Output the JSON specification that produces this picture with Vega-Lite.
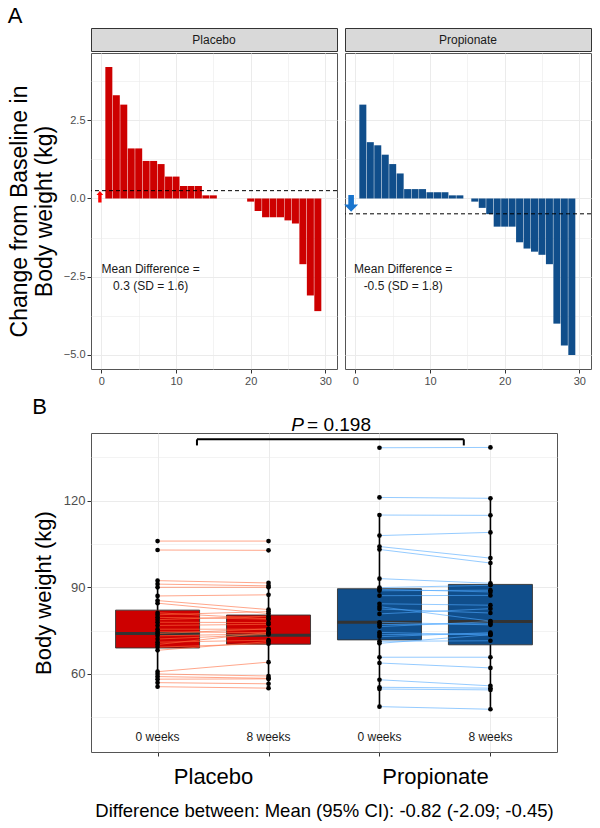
{
  "$schema": "https://vega.github.io/schema/vega-lite/v6.json",
  "padding": {"left": 7, "top": 4, "right": 2, "bottom": 2},
  "background": "white",
  "config": {
    "font": "Liberation Sans",
    "view": {"stroke": "#555555", "strokeWidth": 1},
    "axis": {"domain": false, "tickColor": "#333333", "labelColor": "#4D4D4D", "gridColor": "#EBEBEB", "titleFontWeight": "normal", "titleColor": "black", "labelFont": "Liberation Sans", "titleFont": "Liberation Sans"},
    "title": {"fontWeight": "normal", "font": "Liberation Sans", "color": "black"}
  },
  "datasets": {
    "change": [
      {"panel": "Placebo", "id": 1, "change": 4.2}, {"panel": "Placebo", "id": 2, "change": 3.3}, {"panel": "Placebo", "id": 3, "change": 3.0},
      {"panel": "Placebo", "id": 4, "change": 1.6}, {"panel": "Placebo", "id": 5, "change": 1.6}, {"panel": "Placebo", "id": 6, "change": 1.2},
      {"panel": "Placebo", "id": 7, "change": 1.2}, {"panel": "Placebo", "id": 8, "change": 1.1}, {"panel": "Placebo", "id": 9, "change": 0.7},
      {"panel": "Placebo", "id": 10, "change": 0.7}, {"panel": "Placebo", "id": 11, "change": 0.4}, {"panel": "Placebo", "id": 12, "change": 0.4},
      {"panel": "Placebo", "id": 13, "change": 0.4}, {"panel": "Placebo", "id": 14, "change": 0.1}, {"panel": "Placebo", "id": 15, "change": 0.1},
      {"panel": "Placebo", "id": 16, "change": 0}, {"panel": "Placebo", "id": 17, "change": 0}, {"panel": "Placebo", "id": 18, "change": 0},
      {"panel": "Placebo", "id": 19, "change": 0}, {"panel": "Placebo", "id": 20, "change": -0.1}, {"panel": "Placebo", "id": 21, "change": -0.4},
      {"panel": "Placebo", "id": 22, "change": -0.6}, {"panel": "Placebo", "id": 23, "change": -0.6}, {"panel": "Placebo", "id": 24, "change": -0.6},
      {"panel": "Placebo", "id": 25, "change": -0.7}, {"panel": "Placebo", "id": 26, "change": -0.8}, {"panel": "Placebo", "id": 27, "change": -2.1},
      {"panel": "Placebo", "id": 28, "change": -3.1}, {"panel": "Placebo", "id": 29, "change": -3.6},
      {"panel": "Propionate", "id": 1, "change": 3.0}, {"panel": "Propionate", "id": 2, "change": 1.8}, {"panel": "Propionate", "id": 3, "change": 1.7},
      {"panel": "Propionate", "id": 4, "change": 1.4}, {"panel": "Propionate", "id": 5, "change": 1.1}, {"panel": "Propionate", "id": 6, "change": 0.8},
      {"panel": "Propionate", "id": 7, "change": 0.3}, {"panel": "Propionate", "id": 8, "change": 0.3}, {"panel": "Propionate", "id": 9, "change": 0.3},
      {"panel": "Propionate", "id": 10, "change": 0.2}, {"panel": "Propionate", "id": 11, "change": 0.2}, {"panel": "Propionate", "id": 12, "change": 0.2},
      {"panel": "Propionate", "id": 13, "change": 0.1}, {"panel": "Propionate", "id": 14, "change": 0.1}, {"panel": "Propionate", "id": 15, "change": 0},
      {"panel": "Propionate", "id": 16, "change": -0.1}, {"panel": "Propionate", "id": 17, "change": -0.3}, {"panel": "Propionate", "id": 18, "change": -0.5},
      {"panel": "Propionate", "id": 19, "change": -0.9}, {"panel": "Propionate", "id": 20, "change": -0.9}, {"panel": "Propionate", "id": 21, "change": -0.9},
      {"panel": "Propionate", "id": 22, "change": -1.4}, {"panel": "Propionate", "id": 23, "change": -1.6}, {"panel": "Propionate", "id": 24, "change": -1.7},
      {"panel": "Propionate", "id": 25, "change": -1.8}, {"panel": "Propionate", "id": 26, "change": -2.1}, {"panel": "Propionate", "id": 27, "change": -4.0},
      {"panel": "Propionate", "id": 28, "change": -4.7}, {"panel": "Propionate", "id": 29, "change": -5.0}
    ],
    "boxes": [
      {"c": "Placebo 0 weeks", "g": "Placebo", "lab": "0 weeks", "lo": 55.6, "q1": 69.0, "med": 74.0, "q3": 82.1, "hi": 92.3},
      {"c": "Placebo 8 weeks", "g": "Placebo", "lab": "8 weeks", "lo": 55.1, "q1": 70.3, "med": 73.4, "q3": 80.4, "hi": 91.5},
      {"c": "Propionate 0 weeks", "g": "Propionate", "lab": "0 weeks", "lo": 48.7, "q1": 71.8, "med": 77.9, "q3": 89.5, "hi": 115.0},
      {"c": "Propionate 8 weeks", "g": "Propionate", "lab": "8 weeks", "lo": 47.8, "q1": 70.1, "med": 78.2, "q3": 91.0, "hi": 120.8}
    ],
    "weights": [
      {"s": "P01", "g": "Placebo", "c": "Placebo 0 weeks", "w": 106.0}, {"s": "P01", "g": "Placebo", "c": "Placebo 8 weeks", "w": 106.0},
      {"s": "P02", "g": "Placebo", "c": "Placebo 0 weeks", "w": 102.9}, {"s": "P02", "g": "Placebo", "c": "Placebo 8 weeks", "w": 102.8},
      {"s": "P03", "g": "Placebo", "c": "Placebo 0 weeks", "w": 92.3}, {"s": "P03", "g": "Placebo", "c": "Placebo 8 weeks", "w": 91.5},
      {"s": "P04", "g": "Placebo", "c": "Placebo 0 weeks", "w": 91.1}, {"s": "P04", "g": "Placebo", "c": "Placebo 8 weeks", "w": 90.5},
      {"s": "P05", "g": "Placebo", "c": "Placebo 0 weeks", "w": 90.0}, {"s": "P05", "g": "Placebo", "c": "Placebo 8 weeks", "w": 90.0},
      {"s": "P06", "g": "Placebo", "c": "Placebo 0 weeks", "w": 87.0}, {"s": "P06", "g": "Placebo", "c": "Placebo 8 weeks", "w": 87.4},
      {"s": "P07", "g": "Placebo", "c": "Placebo 0 weeks", "w": 85.4}, {"s": "P07", "g": "Placebo", "c": "Placebo 8 weeks", "w": 82.3},
      {"s": "P08", "g": "Placebo", "c": "Placebo 0 weeks", "w": 84.5}, {"s": "P08", "g": "Placebo", "c": "Placebo 8 weeks", "w": 80.9},
      {"s": "P09", "g": "Placebo", "c": "Placebo 0 weeks", "w": 81.2}, {"s": "P09", "g": "Placebo", "c": "Placebo 8 weeks", "w": 79.1},
      {"s": "P10", "g": "Placebo", "c": "Placebo 0 weeks", "w": 80.5}, {"s": "P10", "g": "Placebo", "c": "Placebo 8 weeks", "w": 81.6},
      {"s": "P11", "g": "Placebo", "c": "Placebo 0 weeks", "w": 79.6}, {"s": "P11", "g": "Placebo", "c": "Placebo 8 weeks", "w": 79.0},
      {"s": "P12", "g": "Placebo", "c": "Placebo 0 weeks", "w": 78.8}, {"s": "P12", "g": "Placebo", "c": "Placebo 8 weeks", "w": 80.0},
      {"s": "P13", "g": "Placebo", "c": "Placebo 0 weeks", "w": 77.9}, {"s": "P13", "g": "Placebo", "c": "Placebo 8 weeks", "w": 77.8},
      {"s": "P14", "g": "Placebo", "c": "Placebo 0 weeks", "w": 76.8}, {"s": "P14", "g": "Placebo", "c": "Placebo 8 weeks", "w": 77.2},
      {"s": "P15", "g": "Placebo", "c": "Placebo 0 weeks", "w": 75.5}, {"s": "P15", "g": "Placebo", "c": "Placebo 8 weeks", "w": 75.5},
      {"s": "P16", "g": "Placebo", "c": "Placebo 0 weeks", "w": 74.6}, {"s": "P16", "g": "Placebo", "c": "Placebo 8 weeks", "w": 74.3},
      {"s": "P17", "g": "Placebo", "c": "Placebo 0 weeks", "w": 74.0}, {"s": "P17", "g": "Placebo", "c": "Placebo 8 weeks", "w": 75.6},
      {"s": "P18", "g": "Placebo", "c": "Placebo 0 weeks", "w": 73.2}, {"s": "P18", "g": "Placebo", "c": "Placebo 8 weeks", "w": 73.9},
      {"s": "P19", "g": "Placebo", "c": "Placebo 0 weeks", "w": 72.1}, {"s": "P19", "g": "Placebo", "c": "Placebo 8 weeks", "w": 73.7},
      {"s": "P20", "g": "Placebo", "c": "Placebo 0 weeks", "w": 71.0}, {"s": "P20", "g": "Placebo", "c": "Placebo 8 weeks", "w": 71.7},
      {"s": "P21", "g": "Placebo", "c": "Placebo 0 weeks", "w": 70.2}, {"s": "P21", "g": "Placebo", "c": "Placebo 8 weeks", "w": 74.4},
      {"s": "P22", "g": "Placebo", "c": "Placebo 0 weeks", "w": 69.3}, {"s": "P22", "g": "Placebo", "c": "Placebo 8 weeks", "w": 70.5},
      {"s": "P23", "g": "Placebo", "c": "Placebo 0 weeks", "w": 68.2}, {"s": "P23", "g": "Placebo", "c": "Placebo 8 weeks", "w": 71.2},
      {"s": "P24", "g": "Placebo", "c": "Placebo 0 weeks", "w": 60.8}, {"s": "P24", "g": "Placebo", "c": "Placebo 8 weeks", "w": 64.1},
      {"s": "P25", "g": "Placebo", "c": "Placebo 0 weeks", "w": 60.0}, {"s": "P25", "g": "Placebo", "c": "Placebo 8 weeks", "w": 59.3},
      {"s": "P26", "g": "Placebo", "c": "Placebo 0 weeks", "w": 59.1}, {"s": "P26", "g": "Placebo", "c": "Placebo 8 weeks", "w": 58.5},
      {"s": "P27", "g": "Placebo", "c": "Placebo 0 weeks", "w": 58.2}, {"s": "P27", "g": "Placebo", "c": "Placebo 8 weeks", "w": 58.3},
      {"s": "P28", "g": "Placebo", "c": "Placebo 0 weeks", "w": 57.0}, {"s": "P28", "g": "Placebo", "c": "Placebo 8 weeks", "w": 56.6},
      {"s": "P29", "g": "Placebo", "c": "Placebo 0 weeks", "w": 55.6}, {"s": "P29", "g": "Placebo", "c": "Placebo 8 weeks", "w": 55.1},
      {"s": "R01", "g": "Propionate", "c": "Propionate 0 weeks", "w": 138.3}, {"s": "R01", "g": "Propionate", "c": "Propionate 8 weeks", "w": 138.4},
      {"s": "R02", "g": "Propionate", "c": "Propionate 0 weeks", "w": 121.1}, {"s": "R02", "g": "Propionate", "c": "Propionate 8 weeks", "w": 120.8},
      {"s": "R03", "g": "Propionate", "c": "Propionate 0 weeks", "w": 115.0}, {"s": "R03", "g": "Propionate", "c": "Propionate 8 weeks", "w": 114.9},
      {"s": "R04", "g": "Propionate", "c": "Propionate 0 weeks", "w": 107.9}, {"s": "R04", "g": "Propionate", "c": "Propionate 8 weeks", "w": 109.0},
      {"s": "R05", "g": "Propionate", "c": "Propionate 0 weeks", "w": 104.1}, {"s": "R05", "g": "Propionate", "c": "Propionate 8 weeks", "w": 100.1},
      {"s": "R06", "g": "Propionate", "c": "Propionate 0 weeks", "w": 103.1}, {"s": "R06", "g": "Propionate", "c": "Propionate 8 weeks", "w": 98.4},
      {"s": "R07", "g": "Propionate", "c": "Propionate 0 weeks", "w": 93.0}, {"s": "R07", "g": "Propionate", "c": "Propionate 8 weeks", "w": 91.4},
      {"s": "R08", "g": "Propionate", "c": "Propionate 0 weeks", "w": 89.9}, {"s": "R08", "g": "Propionate", "c": "Propionate 8 weeks", "w": 90.7},
      {"s": "R09", "g": "Propionate", "c": "Propionate 0 weeks", "w": 89.3}, {"s": "R09", "g": "Propionate", "c": "Propionate 8 weeks", "w": 88.4},
      {"s": "R10", "g": "Propionate", "c": "Propionate 0 weeks", "w": 88.8}, {"s": "R10", "g": "Propionate", "c": "Propionate 8 weeks", "w": 89.0},
      {"s": "R11", "g": "Propionate", "c": "Propionate 0 weeks", "w": 87.1}, {"s": "R11", "g": "Propionate", "c": "Propionate 8 weeks", "w": 87.2},
      {"s": "R12", "g": "Propionate", "c": "Propionate 0 weeks", "w": 84.3}, {"s": "R12", "g": "Propionate", "c": "Propionate 8 weeks", "w": 83.8},
      {"s": "R13", "g": "Propionate", "c": "Propionate 0 weeks", "w": 83.3}, {"s": "R13", "g": "Propionate", "c": "Propionate 8 weeks", "w": 78.3},
      {"s": "R14", "g": "Propionate", "c": "Propionate 0 weeks", "w": 82.5}, {"s": "R14", "g": "Propionate", "c": "Propionate 8 weeks", "w": 81.1},
      {"s": "R15", "g": "Propionate", "c": "Propionate 0 weeks", "w": 80.8}, {"s": "R15", "g": "Propionate", "c": "Propionate 8 weeks", "w": 82.6},
      {"s": "R16", "g": "Propionate", "c": "Propionate 0 weeks", "w": 77.9}, {"s": "R16", "g": "Propionate", "c": "Propionate 8 weeks", "w": 77.0},
      {"s": "R17", "g": "Propionate", "c": "Propionate 0 weeks", "w": 77.1}, {"s": "R17", "g": "Propionate", "c": "Propionate 8 weeks", "w": 77.4},
      {"s": "R18", "g": "Propionate", "c": "Propionate 0 weeks", "w": 76.4}, {"s": "R18", "g": "Propionate", "c": "Propionate 8 weeks", "w": 78.1},
      {"s": "R19", "g": "Propionate", "c": "Propionate 0 weeks", "w": 74.4}, {"s": "R19", "g": "Propionate", "c": "Propionate 8 weeks", "w": 73.5},
      {"s": "R20", "g": "Propionate", "c": "Propionate 0 weeks", "w": 73.6}, {"s": "R20", "g": "Propionate", "c": "Propionate 8 weeks", "w": 73.9},
      {"s": "R21", "g": "Propionate", "c": "Propionate 0 weeks", "w": 72.9}, {"s": "R21", "g": "Propionate", "c": "Propionate 8 weeks", "w": 74.3},
      {"s": "R22", "g": "Propionate", "c": "Propionate 0 weeks", "w": 71.3}, {"s": "R22", "g": "Propionate", "c": "Propionate 8 weeks", "w": 71.5},
      {"s": "R23", "g": "Propionate", "c": "Propionate 0 weeks", "w": 70.6}, {"s": "R23", "g": "Propionate", "c": "Propionate 8 weeks", "w": 73.6},
      {"s": "R24", "g": "Propionate", "c": "Propionate 0 weeks", "w": 65.8}, {"s": "R24", "g": "Propionate", "c": "Propionate 8 weeks", "w": 65.8},
      {"s": "R25", "g": "Propionate", "c": "Propionate 0 weeks", "w": 63.8}, {"s": "R25", "g": "Propionate", "c": "Propionate 8 weeks", "w": 62.1},
      {"s": "R26", "g": "Propionate", "c": "Propionate 0 weeks", "w": 58.0}, {"s": "R26", "g": "Propionate", "c": "Propionate 8 weeks", "w": 55.9},
      {"s": "R27", "g": "Propionate", "c": "Propionate 0 weeks", "w": 55.4}, {"s": "R27", "g": "Propionate", "c": "Propionate 8 weeks", "w": 55.1},
      {"s": "R28", "g": "Propionate", "c": "Propionate 0 weeks", "w": 54.8}, {"s": "R28", "g": "Propionate", "c": "Propionate 8 weeks", "w": 54.5},
      {"s": "R29", "g": "Propionate", "c": "Propionate 0 weeks", "w": 48.7}, {"s": "R29", "g": "Propionate", "c": "Propionate 8 weeks", "w": 47.8}
    ]
  },
  "vconcat": [
    {
      "title": {"text": "A", "anchor": "start", "fontSize": 22, "frame": "bounds", "offset": 0},
      "spacing": 5,
      "hconcat": [
        {
          "spacing": 0,
          "vconcat": [
            {
              "width": 246, "height": 23,
              "view": {"fill": "#D9D9D9", "stroke": "#333333"},
              "data": {"values": [{"panel": "Placebo"}]},
              "mark": {"type": "text", "fontSize": 12, "color": "#1A1A1A"},
              "encoding": {"text": {"field": "panel"}}
            },
            {
              "width": 246, "height": 316,
              "layer": [
                {
                  "data": {"name": "change"},
                  "transform": [{"filter": "datum.panel == 'Placebo'"}],
                  "mark": {"type": "bar", "width": 7, "color": "#CD0000"},
                  "encoding": {
                    "x": {"field": "id", "type": "quantitative",
                      "scale": {"domain": [-0.72, 30.9], "nice": false, "zero": false},
                      "axis": {"values": [0, 5, 10, 15, 20, 25, 30], "title": null, "labelFontSize": 11, "tickSize": 4, "labelPadding": 2,
                        "labelExpr": "datum.value % 10 == 0 ? datum.label : ''",
                        "tickOpacity": {"condition": {"test": "datum.value % 10 != 0", "value": 0}, "value": 1},
                        "gridWidth": {"condition": {"test": "datum.value % 10 != 0", "value": 0.6}, "value": 1}}},
                    "y": {"field": "change", "type": "quantitative",
                      "scale": {"domain": [-5.45, 4.65], "nice": false, "zero": false},
                      "axis": {"values": [-5, -3.75, -2.5, -1.25, 0, 1.25, 2.5, 3.75], "format": ".1f", "labelFontSize": 11, "tickSize": 4, "labelPadding": 2,
                        "labelExpr": "abs(datum.value % 2.5) < 0.01 ? datum.label : ''",
                        "tickOpacity": {"condition": {"test": "abs(datum.value % 2.5) > 0.01", "value": 0}, "value": 1},
                        "gridWidth": {"condition": {"test": "abs(datum.value % 2.5) > 0.01", "value": 0.6}, "value": 1},
                        "title": ["Change from Baseline in", "Body weight (kg)"], "titleFontSize": 23, "titleLineHeight": 25, "titlePadding": 7}}
                  }
                },
                {
                  "data": {"values": [{}]},
                  "mark": {"type": "rule", "strokeDash": [4, 3], "color": "black", "strokeWidth": 1},
                  "encoding": {"y": {"datum": 0.25}}
                },
                {
                  "data": {"values": [{}]},
                  "mark": {"type": "point", "shape": "M-1,0L0,-1.2L1,0L0.5,0L0.5,2.2L-0.5,2.2L-0.5,0Z", "filled": true, "color": "#FF0000", "opacity": 1, "size": 45, "strokeWidth": 0},
                  "encoding": {"x": {"datum": -0.2}, "y": {"datum": 0.11}}
                },
                {
                  "data": {"values": [{}]},
                  "mark": {"type": "text", "fontSize": 12, "color": "#1A1A1A", "lineHeight": 17, "baseline": "middle"},
                  "encoding": {"x": {"datum": 6.6}, "y": {"datum": -2.25}, "text": {"value": ["Mean Difference =", "0.3 (SD = 1.6)"]}}
                }
              ]
            }
          ]
        },
        {
          "spacing": 0,
          "vconcat": [
            {
              "width": 246, "height": 23,
              "view": {"fill": "#D9D9D9", "stroke": "#333333"},
              "data": {"values": [{"panel": "Propionate"}]},
              "mark": {"type": "text", "fontSize": 12, "color": "#1A1A1A"},
              "encoding": {"text": {"field": "panel"}}
            },
            {
              "width": 246, "height": 316,
              "layer": [
                {
                  "data": {"name": "change"},
                  "transform": [{"filter": "datum.panel == 'Propionate'"}],
                  "mark": {"type": "bar", "width": 7, "color": "#104E8B"},
                  "encoding": {
                    "x": {"field": "id", "type": "quantitative",
                      "scale": {"domain": [-0.72, 30.9], "nice": false, "zero": false},
                      "axis": {"values": [0, 5, 10, 15, 20, 25, 30], "title": null, "labelFontSize": 11, "tickSize": 4, "labelPadding": 2,
                        "labelExpr": "datum.value % 10 == 0 ? datum.label : ''",
                        "tickOpacity": {"condition": {"test": "datum.value % 10 != 0", "value": 0}, "value": 1},
                        "gridWidth": {"condition": {"test": "datum.value % 10 != 0", "value": 0.6}, "value": 1}}},
                    "y": {"field": "change", "type": "quantitative",
                      "scale": {"domain": [-5.45, 4.65], "nice": false, "zero": false},
                      "axis": {"values": [-5, -3.75, -2.5, -1.25, 0, 1.25, 2.5, 3.75], "labels": false, "ticks": false, "title": null, "minExtent": 0,
                        "gridWidth": {"condition": {"test": "abs(datum.value % 2.5) > 0.01", "value": 0.6}, "value": 1}}}
                  }
                },
                {
                  "data": {"values": [{}]},
                  "mark": {"type": "rule", "strokeDash": [4, 3], "color": "black", "strokeWidth": 1},
                  "encoding": {"y": {"datum": -0.49}}
                },
                {
                  "data": {"values": [{}]},
                  "mark": {"type": "point", "shape": "M-0.4,-1.35L0.4,-1.35L0.4,0L1,0L0,1.05L-1,0L-0.4,0Z", "filled": true, "color": "#1874CD", "opacity": 1, "size": 196, "strokeWidth": 0},
                  "encoding": {"x": {"datum": -0.57}, "y": {"datum": -0.19}}
                },
                {
                  "data": {"values": [{}]},
                  "mark": {"type": "text", "fontSize": 12, "color": "#1A1A1A", "lineHeight": 17, "baseline": "middle"},
                  "encoding": {"x": {"datum": 6.4}, "y": {"datum": -2.25}, "text": {"value": ["Mean Difference =", "-0.5 (SD = 1.8)"]}}
                }
              ]
            }
          ]
        }
      ]
    },
    {
      "width": 466, "height": 319,
      "title": {"text": "B", "anchor": "start", "fontSize": 22, "frame": "bounds", "offset": -3},
      "resolve": {"scale": {"x": "independent"}, "axis": {"x": "independent"}},
      "layer": [
        {
          "layer": [
            {
              "data": {"name": "boxes"},
              "mark": {"type": "rule", "color": "black", "strokeWidth": 1.6},
              "encoding": {
                "x": {"field": "c", "type": "nominal",
                  "scale": {"type": "point", "padding": 0.6, "domain": ["Placebo 0 weeks", "Placebo 8 weeks", "Propionate 0 weeks", "Propionate 8 weeks"]},
                  "axis": {"title": "Difference between: Mean (95% CI): -0.82 (-2.09; -0.45)", "titleFontSize": 18.5, "titlePadding": 14,
                    "labelExpr": "datum.value == 'Placebo 0 weeks' ? 'Placebo' : (datum.value == 'Propionate 0 weeks' ? 'Propionate' : '')",
                    "labelOffset": 55.5, "labelAngle": 0, "labelFontSize": 22, "labelColor": "black", "labelPadding": 10, "tickSize": 4, "grid": true}},
                "y": {"field": "lo", "type": "quantitative",
                  "scale": {"domain": [33, 143.4], "nice": false, "zero": false},
                  "axis": {"values": [45, 60, 75, 90, 105, 120, 135], "title": "Body weight (kg)", "titleFontSize": 22, "titlePadding": 8,
                    "labelFontSize": 13, "tickSize": 4, "labelPadding": 2,
                    "labelExpr": "datum.value % 30 == 0 ? datum.label : ''",
                    "tickOpacity": {"condition": {"test": "datum.value % 30 != 0", "value": 0}, "value": 1},
                    "gridWidth": {"condition": {"test": "datum.value % 30 != 0", "value": 0.6}, "value": 1}}},
                "y2": {"field": "hi"}
              }
            },
            {
              "data": {"name": "boxes"},
              "mark": {"type": "bar", "width": 84, "stroke": "#333333", "strokeWidth": 0.9},
              "encoding": {
                "x": {"field": "c", "type": "nominal"},
                "y": {"field": "q1", "type": "quantitative"},
                "y2": {"field": "q3"},
                "fill": {"field": "g", "type": "nominal", "scale": {"domain": ["Placebo", "Propionate"], "range": ["#CD0000", "#104E8B"]}, "legend": null}
              }
            },
            {
              "data": {"name": "boxes"},
              "mark": {"type": "tick", "size": 84, "thickness": 3, "color": "#333333", "opacity": 1},
              "encoding": {
                "x": {"field": "c", "type": "nominal"},
                "y": {"field": "med", "type": "quantitative"}
              }
            },
            {
              "data": {"name": "weights"},
              "mark": {"type": "line", "strokeWidth": 1, "opacity": 0.6},
              "encoding": {
                "x": {"field": "c", "type": "nominal"},
                "y": {"field": "w", "type": "quantitative"},
                "detail": {"field": "s"},
                "stroke": {"field": "g", "type": "nominal", "scale": {"domain": ["Placebo", "Propionate"], "range": ["#FF6A3D", "#4FA8FF"]}, "legend": null}
              }
            },
            {
              "data": {"name": "weights"},
              "mark": {"type": "point", "filled": true, "color": "black", "size": 22, "opacity": 1},
              "encoding": {
                "x": {"field": "c", "type": "nominal"},
                "y": {"field": "w", "type": "quantitative"}
              }
            },
            {
              "data": {"name": "boxes"},
              "mark": {"type": "text", "fontSize": 12, "color": "#1A1A1A"},
              "encoding": {
                "x": {"field": "c", "type": "nominal"},
                "y": {"datum": 38.3},
                "text": {"field": "lab"}
              }
            }
          ]
        },
        {
          "layer": [
            {
              "data": {"values": [{}]},
              "mark": {"type": "rule", "color": "black", "strokeWidth": 2},
              "encoding": {
                "x": {"datum": 1.355, "type": "quantitative", "scale": {"domain": [0.4, 4.6], "nice": false, "zero": false}, "axis": null},
                "x2": {"datum": 3.76},
                "y": {"datum": 141.2}
              }
            },
            {
              "data": {"values": [{"xe": 1.355}, {"xe": 3.76}]},
              "mark": {"type": "rule", "color": "black", "strokeWidth": 2},
              "encoding": {
                "x": {"field": "xe", "type": "quantitative"},
                "y": {"datum": 139.1},
                "y2": {"datum": 141.2}
              }
            },
            {
              "data": {"values": [{}]},
              "mark": {"type": "text", "fontSize": 19, "fontStyle": "italic", "align": "right", "baseline": "middle", "color": "black"},
              "encoding": {"x": {"datum": 2.32}, "y": {"datum": 146.2}, "text": {"value": "P"}}
            },
            {
              "data": {"values": [{}]},
              "mark": {"type": "text", "fontSize": 19, "align": "left", "baseline": "middle", "color": "black", "dx": 3},
              "encoding": {"x": {"datum": 2.32}, "y": {"datum": 146.2}, "text": {"value": "= 0.198"}}
            }
          ]
        }
      ]
    }
  ],
  "spacing": 8
}
